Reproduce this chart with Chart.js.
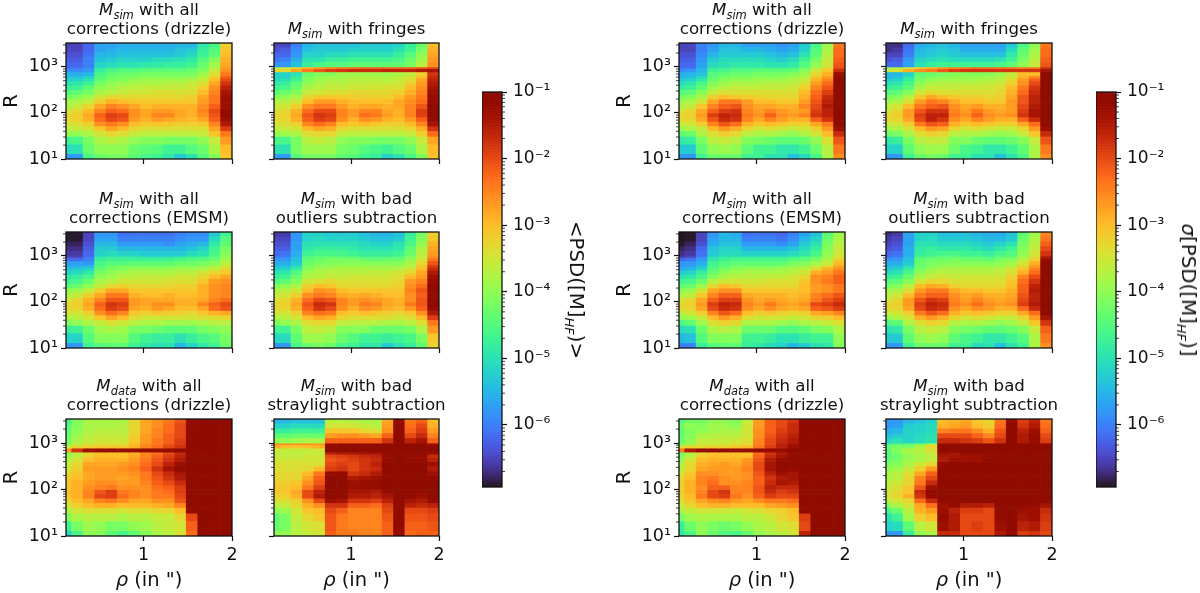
<!DOCTYPE html>
<html><head><meta charset="utf-8">
<style>
html,body{margin:0;padding:0;background:#fff;width:1200px;height:593px;overflow:hidden;font-family:"DejaVu Sans",sans-serif;color:#111}
canvas{position:absolute}
.t{position:absolute;text-align:center;white-space:nowrap;font-size:16.6px;line-height:19px;transform:translateX(-50%)}
.t sub{font-size:11.5px;line-height:0;font-style:italic}
.r sub{font-size:13px;line-height:0;font-style:italic}
.x{position:absolute;white-space:nowrap;font-size:19.5px;transform:translateX(-50%);line-height:22px}
.r{position:absolute;white-space:nowrap;font-size:19.8px;line-height:22px;transform:translate(-50%,-50%) rotate(90deg)}
</style>
<script src="https://cdn.jsdelivr.net/npm/chart.js@4"></script>
</head><body>
<script>
// angular separation (bin centres, arcsec)
const RHO=[0.124,0.253,0.382,0.512,0.641,0.771,0.900,1.029,1.159,1.288,1.418,1.547,1.677,1.806,1.935];
// R bin edges, top to bottom
const R_EDGES=[3300,2700,2100,1650,1300,1000,920,780,640,570,490,400,320,250,200,160,125,100,82,65,52,41,31,21,13,10];
// PSD values as -10*log10(PSD), rows top to bottom, columns along RHO
const MEAN_DRIZZLE=[
[65,65,62,57,57,56,56,56,56,56,55,55,49,46,32],
[65,65,62,57,56,55,55,55,55,55,54,53,48,45,31],
[64,64,61,55,55,54,54,54,54,54,53,51,47,44,30],
[63,63,60,54,53,52,52,52,51,51,50,49,45,41,29],
[62,62,60,52,51,50,50,49,49,48,48,47,43,39,28],
[61,61,59,50,48,47,47,47,46,46,46,45,42,37,27],
[59,59,58,48,46,45,45,44,44,44,44,43,41,36,26],
[55,56,55,46,44,43,43,42,42,42,42,42,39,34,24],
[54,54,52,45,43,42,41,41,41,41,41,40,37,32,22],
[52,52,50,44,42,41,40,39,39,39,39,38,36,30,20],
[50,49,47,42,40,39,38,38,38,37,37,36,34,28,18],
[48,47,44,40,39,37,37,36,36,36,36,35,32,26,16],
[45,44,42,38,37,36,35,35,34,34,34,34,30,25,14],
[42,41,39,35,33,33,33,33,33,33,33,32,28,24,13],
[39,38,36,32,29,30,31,31,31,31,31,31,27,24,13],
[38,36,33,28,25,26,28,30,29,29,29,29,26,22,13],
[35,33,30,25,22,23,26,28,27,27,28,29,25,20,12],
[33,32,28,22,19,20,26,28,25,25,28,29,26,21,11],
[33,32,29,23,20,21,27,29,27,28,29,30,28,22,13],
[35,34,32,26,24,26,30,31,31,31,32,32,31,25,15],
[37,36,35,31,28,30,33,34,34,34,34,34,34,28,19],
[40,40,38,35,33,34,36,37,37,37,37,37,36,31,24],
[47,46,42,38,37,38,40,41,41,42,42,42,40,36,27],
[51,50,43,40,40,40,43,44,45,47,47,45,43,38,30],
[58,58,46,43,42,42,44,46,47,49,53,50,45,41,31]];
const MEAN_FRINGES=[
[65,65,60,55,54,54,54,54,53,53,53,52,48,43,30],
[64,63,59,54,53,53,53,52,52,52,52,50,47,42,29],
[62,62,58,52,52,51,51,50,50,50,50,48,45,40,28],
[61,60,56,50,50,48,48,47,47,47,47,46,43,39,27],
[58,58,54,48,46,45,45,44,44,44,44,44,42,37,26],
[38,36,33,29,27,25,24,23,22,22,22,22,22,21,20],
[33,33,28,24,21,19,18,17,17,17,16,16,16,15,14],
[52,52,50,43,41,41,39,39,39,39,39,38,36,32,18],
[52,52,48,42,40,39,39,38,38,38,38,37,35,30,17],
[51,50,47,41,39,38,38,37,37,37,37,36,34,28,16],
[49,48,44,40,38,37,37,36,36,36,36,35,32,27,15],
[47,46,43,38,37,36,36,35,35,35,34,34,30,26,14],
[44,43,41,36,35,34,34,33,33,33,33,32,29,25,13],
[41,40,38,33,31,31,31,32,32,32,32,30,27,24,12],
[38,37,35,30,27,27,29,30,30,30,30,28,26,23,12],
[36,35,32,26,24,24,27,29,28,28,29,28,25,21,11],
[34,33,29,23,20,20,25,27,25,25,28,29,25,19,10],
[33,32,28,21,18,19,25,27,23,24,27,29,25,19,10],
[33,33,29,22,19,20,26,29,26,27,29,30,27,22,12],
[35,34,32,25,23,25,30,31,30,31,32,32,30,25,14],
[37,36,35,30,28,29,33,34,34,34,34,34,33,29,18],
[40,39,38,34,33,33,36,37,37,37,37,37,36,32,23],
[46,46,42,37,36,37,40,41,41,42,42,42,40,36,28],
[50,50,42,39,39,39,42,43,45,46,47,45,43,38,30],
[58,58,45,42,42,42,44,45,47,48,52,50,46,42,31]];
const MEAN_EMSM=[
[69,69,65,58,58,61,61,61,61,61,60,59,59,53,47],
[69,69,65,57,57,60,60,60,60,60,59,58,58,51,45],
[68,68,64,55,55,58,58,58,58,59,57,56,55,49,44],
[67,67,63,53,53,55,55,55,55,55,55,54,52,47,42],
[66,66,62,52,51,52,52,53,53,53,53,51,50,46,41],
[65,65,61,50,49,49,49,50,50,50,49,48,47,45,40],
[62,62,60,48,47,47,47,47,47,47,46,45,45,43,39],
[57,57,58,46,45,45,44,44,44,44,43,43,42,41,37],
[56,56,55,45,43,42,42,42,42,42,41,41,40,38,35],
[54,53,52,44,42,41,40,40,40,40,39,39,38,36,33],
[52,51,49,42,40,39,38,38,38,38,37,37,35,33,31],
[49,48,46,40,39,37,37,36,36,36,35,35,33,30,28],
[47,46,43,38,37,35,35,35,35,34,34,34,31,27,26],
[44,43,40,36,33,32,33,33,33,33,32,32,29,26,25],
[40,39,36,32,28,28,31,31,31,31,31,31,29,26,25],
[38,36,32,28,24,24,29,30,30,29,30,30,29,26,25],
[35,33,29,25,21,21,27,28,28,28,29,29,28,25,23],
[33,32,28,22,18,19,27,28,26,26,29,29,25,22,20],
[33,33,29,23,19,20,28,29,27,28,30,30,28,23,21],
[35,35,32,26,23,25,31,32,31,32,32,33,31,29,28],
[38,37,35,31,28,30,34,35,35,35,35,35,34,34,33],
[41,40,38,36,34,35,37,38,38,39,39,39,38,37,37],
[48,47,43,39,38,39,42,42,43,44,44,44,42,41,40],
[52,52,45,41,41,41,45,47,48,48,50,48,46,45,42],
[58,58,47,45,44,44,47,49,50,50,55,52,49,47,43]];
const MEAN_OUTLIERS=[
[66,66,58,52,52,53,53,53,54,55,55,54,48,42,32],
[65,65,58,52,51,52,52,52,53,54,54,53,47,41,31],
[64,64,57,50,50,50,50,50,51,52,52,50,46,40,29],
[63,63,57,49,48,48,48,49,50,50,50,49,44,38,28],
[62,61,56,47,46,46,46,47,48,48,48,47,43,37,27],
[60,60,55,45,44,44,44,45,46,46,46,45,41,36,26],
[58,58,54,44,43,42,42,42,43,44,43,43,40,35,24],
[56,56,53,43,42,41,41,41,41,41,41,41,38,33,21],
[54,54,51,42,40,40,39,39,39,39,39,39,37,31,19],
[52,52,48,41,39,38,38,38,38,38,38,37,35,30,17],
[50,49,45,39,38,37,37,37,37,36,36,35,33,28,15],
[48,47,43,38,37,36,36,35,35,35,35,34,30,27,13],
[45,44,41,35,34,33,34,34,34,34,34,33,27,25,12],
[41,40,38,32,30,31,33,33,33,33,33,32,26,23,11],
[38,37,35,30,26,27,30,31,31,31,31,31,25,21,10],
[36,35,32,26,24,25,28,29,28,29,30,30,26,22,12],
[34,33,29,23,20,21,25,27,26,27,28,29,26,21,11],
[33,32,28,21,17,18,25,27,24,25,28,29,24,21,10],
[33,33,29,22,18,20,26,29,26,27,29,30,27,22,12],
[35,35,32,25,23,24,30,31,30,31,32,33,31,26,15],
[38,37,35,30,28,29,33,34,34,34,34,35,34,30,19],
[41,40,38,34,33,33,36,37,37,37,38,38,37,34,24],
[47,47,42,37,36,37,41,41,41,43,43,43,42,38,27],
[51,51,44,39,39,40,43,45,47,47,48,47,46,42,31],
[58,58,46,43,42,43,46,47,49,49,53,50,48,44,33]];
const MEAN_DATA=[
[46,41,38,38,38,38,33,28,26,24,21,12,10,10,10],
[45,41,38,38,38,37,33,28,26,23,20,12,10,10,10],
[44,40,38,37,37,37,33,28,25,23,20,11,10,10,10],
[43,39,37,36,36,36,32,27,25,22,20,11,10,10,10],
[42,38,36,35,35,35,31,27,24,22,19,10,10,10,10],
[40,37,35,34,34,34,30,26,24,21,19,10,10,10,10],
[36,33,32,31,31,31,29,25,23,20,18,10,10,10,10],
[27,18,13,12,11,12,12,11,12,12,11,10,10,10,10],
[41,37,33,31,31,31,29,25,23,20,17,10,10,10,10],
[40,36,32,30,30,30,28,25,22,19,16,10,10,10,10],
[38,35,30,29,29,29,27,24,21,18,15,10,10,10,10],
[36,33,28,28,28,27,26,23,20,16,13,10,10,10,10],
[35,32,27,27,27,26,25,22,18,14,10,10,10,10,10],
[33,31,28,27,27,27,26,24,20,17,14,10,10,10,10],
[32,30,28,27,27,28,27,24,21,18,15,10,10,10,10],
[31,29,27,26,26,27,27,25,22,20,17,10,10,10,10],
[31,29,26,25,24,26,26,26,23,22,19,10,10,10,10],
[30,29,25,21,19,24,25,26,24,23,19,10,10,10,10],
[31,29,25,20,19,23,25,26,24,24,20,10,10,10,10],
[33,30,28,25,24,26,28,28,26,26,21,10,10,10,10],
[35,32,30,29,29,30,30,30,29,28,25,10,10,10,10],
[38,35,34,34,34,35,34,34,33,33,30,12,10,10,10],
[41,38,37,37,37,38,37,37,36,36,33,20,10,10,10],
[47,42,39,40,42,42,40,39,37,36,35,22,10,12,10],
[52,46,40,41,44,46,44,41,38,37,34,23,10,11,10]];
const MEAN_STRAY=[
[55,55,54,54,54,37,37,37,38,38,28,12,24,22,30],
[52,52,51,51,51,35,35,35,36,37,27,11,23,20,29],
[48,48,47,47,47,31,31,31,33,34,26,11,22,19,27],
[44,44,43,43,43,27,26,26,27,28,22,10,20,17,25],
[40,40,39,38,38,22,22,22,22,22,18,10,16,14,22],
[25,26,26,26,27,12,11,11,11,11,10,10,10,10,12],
[29,30,31,30,29,10,10,10,10,10,10,10,10,10,10],
[36,36,36,36,35,11,10,10,10,10,10,10,10,10,10],
[37,37,37,36,36,16,15,15,14,14,11,10,11,11,13],
[36,36,36,35,35,20,19,18,17,16,12,10,12,12,17],
[35,35,35,35,35,21,20,19,18,17,12,10,12,12,16],
[34,34,34,34,34,20,19,20,18,16,11,10,11,11,13],
[34,34,34,33,30,19,18,20,18,17,11,10,11,10,15],
[33,33,33,30,24,12,11,18,17,15,10,10,10,10,13],
[33,33,33,28,22,10,10,15,14,13,10,10,10,10,11],
[32,32,31,26,21,10,10,13,12,12,10,10,10,10,11],
[31,31,30,24,19,10,10,13,12,12,10,10,10,10,10],
[31,31,28,20,16,10,10,14,14,15,12,10,11,12,10],
[32,32,29,20,15,10,10,15,15,16,14,10,11,13,10],
[35,34,32,26,20,13,14,18,18,19,16,10,14,15,12],
[37,36,33,29,26,18,18,22,22,23,19,10,16,17,16],
[40,39,35,31,30,20,22,25,25,25,20,10,20,20,19],
[44,42,36,33,31,21,24,25,25,25,21,10,21,21,20],
[43,42,37,35,34,21,24,25,25,25,22,11,22,22,21],
[40,40,37,36,35,22,24,24,25,25,22,12,23,22,22]];
const SIG_DRIZZLE=[
[65,65,60,58,55,55,57,57,57,58,57,53,46,39,24],
[65,65,60,57,54,54,55,55,56,57,56,52,45,38,23],
[64,64,59,55,53,53,53,53,54,55,54,50,44,37,23],
[63,63,58,53,51,51,51,51,52,53,51,47,42,36,22],
[62,62,57,51,50,49,49,49,50,50,49,45,40,35,21],
[61,61,56,49,48,47,47,47,47,47,46,43,38,33,20],
[59,58,55,47,46,45,45,44,44,44,44,41,35,31,17],
[56,55,54,45,44,43,43,42,42,42,41,39,33,29,13],
[55,54,51,44,42,41,41,41,41,40,39,37,31,27,11],
[53,52,49,43,41,40,40,39,39,39,38,36,29,25,10],
[51,49,46,41,39,38,38,38,37,37,37,34,27,23,10],
[48,47,44,39,37,36,36,36,36,36,35,32,25,21,10],
[45,44,41,36,34,34,34,34,34,34,34,30,23,19,10],
[42,41,38,32,30,31,32,32,33,33,33,29,22,17,10],
[39,38,35,28,24,24,27,30,30,31,31,27,21,16,10],
[38,36,31,25,22,21,26,28,28,29,29,25,20,15,10],
[35,33,28,22,19,18,25,27,25,27,28,27,19,16,10],
[33,32,27,19,16,17,24,26,22,26,27,25,18,16,10],
[33,33,28,21,17,18,25,28,25,27,29,29,22,18,10],
[36,35,32,25,21,23,29,31,30,31,32,32,28,24,11],
[39,38,36,30,27,29,33,35,34,35,36,35,32,27,13],
[44,43,38,34,32,33,37,38,38,39,40,38,35,30,17],
[49,48,42,37,36,37,41,42,43,44,44,43,40,34,21],
[53,53,44,40,39,40,44,47,47,49,49,47,43,37,24],
[58,58,47,43,43,43,47,47,50,50,54,51,46,38,26]];
const SIG_FRINGES=[
[67,67,62,56,55,54,55,57,57,57,57,53,46,40,24],
[67,66,61,55,54,53,54,56,56,56,56,51,44,39,23],
[65,65,60,54,53,52,53,54,54,54,54,49,43,38,23],
[64,63,58,52,51,50,51,51,51,51,50,47,42,37,22],
[62,62,57,50,48,47,47,47,47,47,46,44,40,36,21],
[40,39,35,31,29,27,25,24,23,23,23,23,24,24,17],
[36,34,29,26,24,21,19,18,18,18,18,18,18,18,14],
[55,55,52,44,43,42,41,41,41,41,39,36,30,30,10],
[55,54,50,43,42,41,40,40,40,39,38,35,29,25,10],
[53,52,48,42,40,39,39,39,38,38,37,33,27,22,10],
[50,49,46,40,38,37,37,37,37,36,35,32,26,20,10],
[48,47,44,38,36,36,36,35,35,35,34,30,24,18,10],
[45,44,41,35,33,34,34,34,34,34,33,29,23,17,10],
[42,41,37,31,28,30,31,32,32,33,32,28,21,16,10],
[39,38,34,27,24,25,28,30,30,31,31,27,21,16,10],
[37,35,30,24,22,21,26,28,27,29,29,27,20,15,10],
[35,33,27,21,18,18,25,27,24,27,28,27,19,14,10],
[33,32,27,19,16,16,24,26,22,26,27,26,18,14,10],
[33,33,28,20,16,18,26,28,25,27,29,29,22,17,10],
[36,35,32,24,21,22,29,31,30,31,32,32,28,23,10],
[39,38,35,30,27,28,33,35,34,35,36,36,33,27,13],
[43,42,38,34,32,33,37,38,38,39,40,39,36,31,17],
[49,48,42,37,36,36,41,41,43,44,44,43,41,36,21],
[52,52,44,40,39,39,43,46,47,49,49,47,44,38,24],
[58,58,47,43,42,43,47,47,50,50,54,50,46,38,26]];
const SIG_EMSM=[
[70,69,65,58,55,56,61,61,61,62,60,57,54,44,39],
[70,69,65,57,55,55,60,60,60,61,59,55,52,43,38],
[69,68,64,56,54,54,58,58,58,59,57,53,50,42,37],
[68,67,62,54,52,52,55,55,55,55,54,51,48,41,36],
[67,66,61,53,51,51,52,52,52,52,51,49,46,40,35],
[66,65,60,51,49,49,49,49,49,49,48,46,44,39,34],
[62,61,58,49,47,46,46,46,46,46,45,44,42,38,32],
[58,58,56,47,45,44,44,44,44,44,42,41,39,36,30],
[58,57,54,46,44,42,42,42,42,41,40,39,36,33,28],
[56,55,52,45,42,41,40,40,40,39,38,37,33,29,26],
[53,52,48,43,40,39,38,38,38,38,37,35,29,27,24],
[50,49,46,41,38,37,37,37,36,36,35,33,26,25,22],
[47,46,43,37,35,35,35,35,34,34,34,31,26,24,22],
[44,43,39,33,30,31,33,33,33,33,33,30,27,26,24],
[41,39,35,28,26,26,31,31,31,31,31,30,27,26,24],
[38,37,31,25,22,22,28,29,29,29,30,29,25,23,21],
[35,33,28,22,19,19,26,28,27,28,29,28,24,21,19],
[33,32,27,19,16,17,25,27,24,27,28,26,20,19,17],
[33,33,28,20,17,18,26,28,26,28,29,28,22,21,19],
[37,35,32,25,21,23,30,32,31,32,33,32,28,27,25],
[40,39,36,30,27,29,34,35,35,35,36,35,33,32,30],
[46,44,39,34,32,33,38,38,38,39,40,38,37,36,34],
[51,50,43,38,37,38,43,43,43,45,45,44,42,41,38],
[55,54,45,41,41,41,47,47,48,50,50,48,47,47,40],
[60,60,48,45,44,44,48,49,51,52,55,53,50,49,41]];
const SIG_OUTLIERS=[
[67,66,57,52,52,54,54,54,55,56,56,54,44,39,25],
[66,65,57,52,51,53,53,53,54,55,55,53,43,38,24],
[65,64,57,50,50,51,51,51,52,53,52,50,42,37,22],
[64,63,56,49,48,49,49,49,50,51,49,47,41,36,20],
[62,61,56,48,47,46,46,47,47,48,46,45,40,35,18],
[61,60,55,46,45,44,44,45,45,46,44,43,39,34,15],
[58,58,54,44,43,43,42,43,43,44,42,41,37,32,13],
[56,56,53,43,42,41,41,41,41,41,40,39,35,29,11],
[55,54,51,43,41,40,39,39,39,39,39,37,33,27,10],
[53,52,48,42,40,38,38,38,38,38,37,35,31,25,10],
[51,50,46,40,38,37,37,37,37,37,36,34,29,23,10],
[48,47,43,38,36,35,36,35,35,35,35,32,25,20,10],
[45,44,41,35,33,33,34,34,34,34,34,31,23,18,10],
[42,41,37,30,28,29,32,33,33,33,33,30,22,16,10],
[39,38,34,27,24,24,28,30,30,31,31,29,22,15,10],
[37,35,30,24,22,22,26,28,27,29,29,28,21,16,10],
[35,33,27,21,18,19,25,27,25,27,28,27,20,16,10],
[33,32,27,19,16,17,24,26,23,26,27,26,19,15,10],
[33,33,28,20,17,18,26,28,26,27,29,29,23,17,10],
[36,35,32,24,21,23,29,31,30,31,32,32,28,23,11],
[40,38,35,29,27,29,33,35,34,35,36,36,33,27,14],
[45,44,38,34,32,33,37,38,38,39,40,39,36,31,18],
[50,49,42,37,36,37,41,42,43,44,44,43,41,36,22],
[53,53,44,40,39,40,44,46,47,49,49,47,45,38,24],
[58,58,47,43,43,43,47,47,51,50,54,50,47,38,26]];
const SIG_DATA=[
[45,42,42,40,40,41,36,27,22,20,18,10,10,10,10],
[43,40,41,39,39,40,35,27,22,20,17,10,10,10,10],
[44,41,40,39,38,38,35,26,22,19,17,10,10,10,10],
[44,41,38,37,37,37,35,26,21,18,16,10,10,10,10],
[43,40,36,36,36,35,34,25,20,17,15,10,10,10,10],
[42,39,36,36,35,34,33,25,20,16,14,10,10,10,10],
[35,33,33,32,32,31,30,24,19,16,13,10,10,10,10],
[24,15,12,11,11,12,12,11,12,12,11,10,10,10,10],
[43,38,33,31,31,31,31,23,18,15,12,10,10,10,10],
[42,37,32,30,30,30,30,22,17,14,11,10,10,10,10],
[40,35,30,29,29,29,27,21,15,12,10,10,10,10,10],
[38,33,29,28,27,28,26,20,14,10,10,10,10,10,10],
[37,33,28,27,27,27,25,20,14,11,12,10,10,10,10],
[35,31,26,26,27,27,26,21,16,13,14,10,10,10,10],
[33,30,25,24,26,27,26,22,18,15,14,10,10,10,10],
[32,29,25,23,26,26,25,22,17,14,15,10,10,10,10],
[32,29,26,22,22,25,25,21,16,17,17,10,10,10,10],
[32,29,25,20,18,25,25,21,17,19,18,10,10,10,10],
[33,30,24,20,19,24,26,22,19,20,20,10,10,10,10],
[34,31,28,26,25,27,28,26,24,24,23,10,10,10,10],
[36,33,30,29,29,30,30,30,28,27,26,10,10,10,10],
[38,36,35,35,35,36,35,34,33,32,30,10,10,10,10],
[42,39,38,38,38,38,37,37,35,33,31,19,10,10,10],
[48,43,40,42,43,42,40,38,37,35,34,20,10,10,10],
[49,46,40,43,45,46,43,40,38,37,35,16,10,10,10]];
const SIG_STRAY=[
[58,58,55,54,52,30,29,28,31,33,24,12,19,16,24],
[58,57,53,52,51,29,28,27,30,32,23,11,18,15,23],
[56,55,52,52,51,25,24,24,26,29,21,10,16,13,22],
[54,53,52,51,50,20,20,20,22,25,20,10,15,12,20],
[52,50,52,51,50,17,17,18,19,21,18,10,15,12,19],
[46,45,44,42,38,10,10,10,10,10,10,10,10,10,10],
[44,42,42,38,33,10,10,10,10,10,10,10,10,10,10],
[44,41,38,37,34,10,10,10,10,10,10,10,10,10,10],
[45,42,39,38,36,13,14,12,12,12,10,10,10,10,12],
[45,43,40,38,37,14,14,13,13,12,10,10,10,10,10],
[44,42,39,38,36,15,13,13,13,11,10,10,10,10,10],
[42,41,38,35,33,12,11,11,11,10,10,10,10,10,10],
[40,39,36,32,27,10,10,10,10,10,10,10,10,10,10],
[38,37,34,28,22,10,10,10,10,10,10,10,10,10,10],
[38,37,33,25,20,10,10,10,10,10,10,10,10,10,10],
[37,35,33,24,17,10,10,10,10,10,10,10,10,10,10],
[36,34,31,21,13,10,10,10,10,10,10,10,10,10,10],
[35,33,31,17,11,10,10,10,10,10,10,10,10,10,10],
[35,33,29,18,12,10,10,10,10,10,10,10,10,10,10],
[37,35,33,23,17,11,10,10,10,10,10,10,10,10,10],
[41,38,35,28,23,13,12,15,15,16,10,10,11,12,14],
[46,43,37,29,27,13,16,19,19,20,10,10,13,13,17],
[50,47,39,32,30,12,15,20,20,20,12,10,14,13,18],
[52,51,44,37,35,13,15,20,19,20,13,11,16,15,19],
[58,58,48,40,38,17,17,20,20,20,15,12,19,18,20]];

const R_TICKS=[10,100,1000];
const RHO_TICKS=[1,2];
const CB_TICKS=[1e-1,1e-2,1e-3,1e-4,1e-5,1e-6];
const SUP={'-':'⁻','0':'⁰','1':'¹','2':'²','3':'³','4':'⁴','5':'⁵','6':'⁶','7':'⁷','8':'⁸','9':'⁹'};
const VMIN=1.17e-7,VMAX=0.1;
const M=(s)=>`<i>M<sub>${s}</sub></i>`;
const TITLES=[
 M('sim')+' with all<br>corrections (drizzle)',M('sim')+' with fringes',
 M('sim')+' with all<br>corrections (EMSM)',M('sim')+' with bad<br>outliers subtraction',
 M('data')+' with all<br>corrections (drizzle)',M('sim')+' with bad<br>straylight subtraction'];
const PANELS=[MEAN_DRIZZLE,MEAN_FRINGES,MEAN_EMSM,MEAN_OUTLIERS,MEAN_DATA,MEAN_STRAY,SIG_DRIZZLE,SIG_FRINGES,SIG_EMSM,SIG_OUTLIERS,SIG_DATA,SIG_STRAY];
const COLS=[[66,232],[274,439],[679,845],[886,1052]];
const ROWS=[[43,159],[232,348],[419,536]];
const FONT='"DejaVu Sans"',INK='#111';

function turbo(t){
 t=Math.min(1,Math.max(0,t));
 const r=34.61+t*(1172.33-t*(10793.56-t*(33300.12-t*(38394.49-t*14825.05))));
 const g=23.31+t*(557.33+t*(1225.33-t*(3574.96-t*(1073.77+t*707.56))));
 const b=27.2+t*(3211.1-t*(15327.97-t*(27814-t*(22569.18-t*6838.66))));
 const c=v=>Math.round(Math.min(255,Math.max(0,v)));
 return `rgb(${c(r)},${c(g)},${c(b)})`;
}
const colorOf=v=>turbo((Math.log10(v)-Math.log10(VMIN))/(Math.log10(VMAX)-Math.log10(VMIN)));
const powLabel=v=>{const e=Math.round(Math.log10(v));return '10'+String(e).split('').map(c=>SUP[c]).join('');};

const frame={id:'frame',afterDatasetsDraw(ch){
 const a=ch.chartArea,c=ch.ctx,y=ch.scales.y,side=ch.options.plugins.frame.side;
 c.save();c.strokeStyle=INK;
 for(let d=Math.floor(Math.log10(y.min));d<=Math.log10(y.max);d++)for(let m=2;m<10;m++){
  const v=m*10**d;if(v<y.min||v>y.max)continue;
  const p=y.getPixelForValue(v);c.lineWidth=0.8;c.beginPath();
  if(side==='right'){c.moveTo(a.right,p);c.lineTo(a.right+3,p);}else{c.moveTo(a.left,p);c.lineTo(a.left-3,p);}
  c.stroke();
 }
 c.lineWidth=1.3;c.strokeRect(a.left,a.top,a.right-a.left,a.bottom-a.top);c.restore();
}};
const fixBox=(w,h)=>s=>{if(w!=null)s.width=w;if(h!=null)s.height=h;s.paddingLeft=s.paddingRight=s.paddingTop=s.paddingBottom=0;};
function mk(left,top,w,h){const c=document.createElement('canvas');c.width=w;c.height=h;c.style.left=left+'px';c.style.top=top+'px';c.style.width=w+'px';c.style.height=h+'px';document.body.appendChild(c);return c;}
function addDiv(cls,html,x,y){const d=document.createElement('div');d.className=cls;d.innerHTML=html;d.style.left=x+'px';d.style.top=y+'px';document.body.appendChild(d);return d;}

function panel(vals,cx,ry){
 const [x0,x1]=COLS[cx],[y0,y1]=ROWS[ry];
 const first=cx%2===0,bottom=ry===2;
 const yW=first?66:12,xH=bottom?34:10;
 const datasets=vals.map((row,i)=>({
  data:row.map((v,j)=>({x:RHO[j],y:[R_EDGES[i+1],R_EDGES[i]]})),
  backgroundColor:row.map(v=>colorOf(10**(-v/10))),
  borderWidth:0,barPercentage:1,categoryPercentage:1}));
 new Chart(mk(x0-yW,y0-10,yW+(x1-x0)+12,(y1-y0)+10+xH),{type:'bar',data:{datasets},
  options:{responsive:false,animation:false,events:[],
   layout:{padding:{left:0,right:12,top:10,bottom:0}},
   plugins:{legend:{display:false},tooltip:{enabled:false},title:{display:false},frame:{side:'left'}},
   scales:{
    x:{type:'linear',min:0.124,max:2,stacked:true,offset:false,
     grid:{drawOnChartArea:false,offset:false,tickLength:5,tickColor:INK,tickWidth:1.2},border:{display:false},
     afterBuildTicks:s=>{s.ticks=RHO_TICKS.map(value=>({value}));},
     ticks:{display:bottom,autoSkip:false,maxRotation:0,color:INK,font:{family:FONT,size:17.5},padding:4,callback:v=>String(v)},
     afterFit:fixBox(null,xH)},
    y:{type:'logarithmic',min:10,max:3300,
     grid:{drawOnChartArea:false,tickLength:5,tickColor:INK,tickWidth:1.2},border:{display:false},
     afterBuildTicks:s=>{s.ticks=R_TICKS.map(value=>({value}));},
     ticks:{display:first,autoSkip:false,color:INK,font:{family:FONT,size:17.5},padding:3,callback:powLabel},
     title:{display:first,text:'R',color:INK,font:{family:FONT,size:20},padding:0},
     afterFit:fixBox(yW,null)}
   }},plugins:[frame]});
 if(bottom)addDiv('x','<i>ρ</i> (in ")',(x0+x1)/2,569);
}
function colorbar(x0,x1){
 const n=256,edges=[],ds=[];
 const lo=Math.log10(VMIN),hi=Math.log10(VMAX);
 for(let i=0;i<=n;i++)edges.push(10**(lo+(hi-lo)*i/n));
 for(let i=0;i<n;i++)ds.push({data:[[edges[i],edges[i+1]]],backgroundColor:turbo((i+.5)/n),borderWidth:0,barPercentage:1,categoryPercentage:1});
 new Chart(mk(x0,92-12,(x1-x0)+62,395+24),{type:'bar',data:{labels:['scale'],datasets:ds},
  options:{responsive:false,animation:false,events:[],
   layout:{padding:{left:0,right:0,top:12,bottom:12}},
   plugins:{legend:{display:false},tooltip:{enabled:false},frame:{side:'right'}},
   scales:{
    x:{display:false,stacked:true,afterFit:fixBox(null,0)},
    y:{type:'logarithmic',position:'right',min:VMIN,max:VMAX,
     grid:{drawOnChartArea:false,tickLength:5,tickColor:INK,tickWidth:1.2},border:{display:false},
     afterBuildTicks:s=>{s.ticks=CB_TICKS.map(value=>({value}));},
     ticks:{autoSkip:false,color:INK,font:{family:FONT,size:17},padding:6,callback:powLabel},
     afterFit:fixBox(62,null)}
   }},plugins:[frame]});
}
PANELS.forEach((vals,i)=>{
 const g=i<6?0:2,k=i%6,cx=g+k%2,ry=Math.floor(k/2);
 panel(vals,cx,ry);
 const xc=(COLS[cx][0]+COLS[cx][1])/2;
 const d=addDiv('t',TITLES[k],xc,0);
 d.style.top=(ROWS[ry][0]-5-d.offsetHeight)+'px';
});
colorbar(482,502);colorbar(1096,1116);
addDiv('r','&lt;PSD([M]<sub>HF</sub>)&gt;',576,290);
addDiv('r','<i>σ</i>[PSD([M]<sub>HF</sub>)]',1188,290);
</script>
</body></html>
